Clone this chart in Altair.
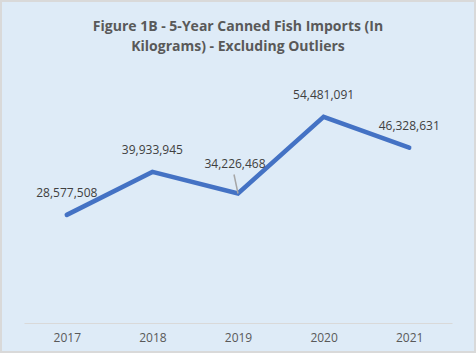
import altair as alt
import pandas as pd

years = ["2017", "2018", "2019", "2020", "2021"]
imports_kg = [28577508, 39933945, 34226468, 54481091, 46328631]
title_lines = ["Figure 1B - 5-Year Canned Fish Imports (In", "Kilograms) - Excluding Outliers"]

df = pd.DataFrame({"year": years, "kg": imports_kg})
df["label"] = [f"{v:,}" for v in imports_kg]

FONT = "Open Sans"
GREY = "#595959"

x = alt.X("year:O", scale=alt.Scale(type="point", padding=0.5),
          axis=alt.Axis(title=None, labelAngle=0, ticks=False, labelPadding=9,
                        domainColor="#d9d9d9", domainWidth=1,
                        labelColor=GREY, labelFont=FONT, labelFontSize=12))
y = alt.Y("kg:Q", scale=alt.Scale(domain=[0, 60000000], nice=False, zero=True), axis=None)

base = alt.Chart(df)

line = base.mark_line(color="#4472C4", strokeWidth=4.5, strokeCap="round", strokeJoin="miter").encode(x=x, y=y)

labels = base.mark_text(font=FONT, fontSize=12, color="#404040", dy=-22).encode(
    x=x, y=y, text="label:N"
).transform_filter(alt.datum.year != "2019")

label19 = base.mark_text(font=FONT, fontSize=12, color="#404040", dy=-30, dx=-3).encode(
    x=x, y=y, text="label:N"
).transform_filter(alt.datum.year == "2019")

leader = base.mark_rule(color="#a6a6a6", strokeWidth=1.5, x2Offset=-4, y2Offset=-19).encode(
    x=x, x2="year:O", y=y, y2="kg:Q"
).transform_filter(alt.datum.year == "2019")

one = base.transform_filter(alt.datum.year == "2017")

frame = one.mark_rect(fill=None, stroke="#d9d9d9", strokeWidth=2).encode(
    x=alt.value(-23), x2=alt.value(451), y=alt.value(-95), y2=alt.value(256)
)

title1 = one.mark_text(font=FONT, fontSize=14, fontWeight="bold", color=GREY, baseline="middle").encode(
    x=alt.value(214), y=alt.value(-69), text=alt.value(title_lines[0])
)
title2 = one.mark_text(font=FONT, fontSize=14, fontWeight="bold", color=GREY, baseline="middle").encode(
    x=alt.value(214), y=alt.value(-49), text=alt.value(title_lines[1])
)

chart = alt.layer(line, leader, labels, label19, title1, title2, frame).properties(
    width=428, height=227,
    padding={"left": 24, "top": 96, "right": 24, "bottom": 30},
    autosize=alt.AutoSizeParams(type="none"),
    background="#DEEBF7",
).configure_view(stroke=None)

chart.save("out.html", embed_options={"renderer": "svg", "actions": False})
